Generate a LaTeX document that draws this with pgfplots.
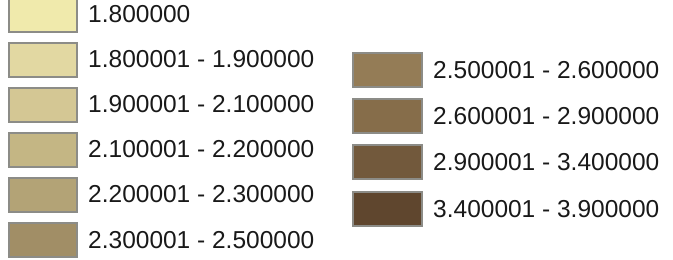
\documentclass[border=0pt]{standalone}
\usepackage{fontspec}
\setmainfont{Liberation Sans}
\usepackage{pgfplots}
\pgfplotsset{compat=1.18}
\definecolor{c1}{RGB}{240,234,172}
\definecolor{c2}{RGB}{226,216,162}
\definecolor{c3}{RGB}{212,199,148}
\definecolor{c4}{RGB}{196,182,132}
\definecolor{c5}{RGB}{179,163,118}
\definecolor{c6}{RGB}{161,142,102}
\definecolor{c7}{RGB}{148,124,86}
\definecolor{c8}{RGB}{134,109,74}
\definecolor{c9}{RGB}{114,89,60}
\definecolor{c10}{RGB}{95,70,46}
\definecolor{edge}{RGB}{140,140,135}
\definecolor{txt}{RGB}{25,25,25}
\tikzset{lab/.style={anchor=west, font=\fontsize{24.5bp}{29bp}\selectfont, text=txt, inner sep=0pt}}
\begin{document}
\begin{tikzpicture}
\useasboundingbox (0,0) rectangle (673bp,260bp);
\begin{axis}[
  anchor=south west, at={(0,0)},
  width=673bp, height=260bp, scale only axis,
  xmin=0, xmax=673, ymin=0, ymax=260,
  hide axis,
]
% left column (y = bottom of swatch, axis units)
\addplot[fill=c1, draw=edge, line width=1.3bp] coordinates {(9,228) (77,228) (77,264) (9,264)} -- cycle;
\addplot[fill=c2, draw=edge, line width=1.3bp] coordinates {(9,183) (77,183) (77,217) (9,217)} -- cycle;
\addplot[fill=c3, draw=edge, line width=1.3bp] coordinates {(9,138) (77,138) (77,172) (9,172)} -- cycle;
\addplot[fill=c4, draw=edge, line width=1.3bp] coordinates {(9,93) (77,93) (77,127) (9,127)} -- cycle;
\addplot[fill=c5, draw=edge, line width=1.3bp] coordinates {(9,48) (77,48) (77,82) (9,82)} -- cycle;
\addplot[fill=c6, draw=edge, line width=1.3bp] coordinates {(9,3) (77,3) (77,37) (9,37)} -- cycle;
% right column
\addplot[fill=c7, draw=edge, line width=1.3bp] coordinates {(353,173) (422,173) (422,207) (353,207)} -- cycle;
\addplot[fill=c8, draw=edge, line width=1.3bp] coordinates {(353,127) (422,127) (422,161) (353,161)} -- cycle;
\addplot[fill=c9, draw=edge, line width=1.3bp] coordinates {(353,81) (422,81) (422,115) (353,115)} -- cycle;
\addplot[fill=c10, draw=edge, line width=1.3bp] coordinates {(353,34) (422,34) (422,68) (353,68)} -- cycle;
% labels
\node[lab] at (axis cs:88,246) {1.800000};
\node[lab] at (axis cs:88,201) {1.800001 - 1.900000};
\node[lab] at (axis cs:88,156) {1.900001 - 2.100000};
\node[lab] at (axis cs:88,111) {2.100001 - 2.200000};
\node[lab] at (axis cs:88,66) {2.200001 - 2.300000};
\node[lab] at (axis cs:88,20) {2.300001 - 2.500000};
\node[lab] at (axis cs:433,190) {2.500001 - 2.600000};
\node[lab] at (axis cs:433,144) {2.600001 - 2.900000};
\node[lab] at (axis cs:433,98) {2.900001 - 3.400000};
\node[lab] at (axis cs:433,51) {3.400001 - 3.900000};
\end{axis}
\end{tikzpicture}
\end{document}
